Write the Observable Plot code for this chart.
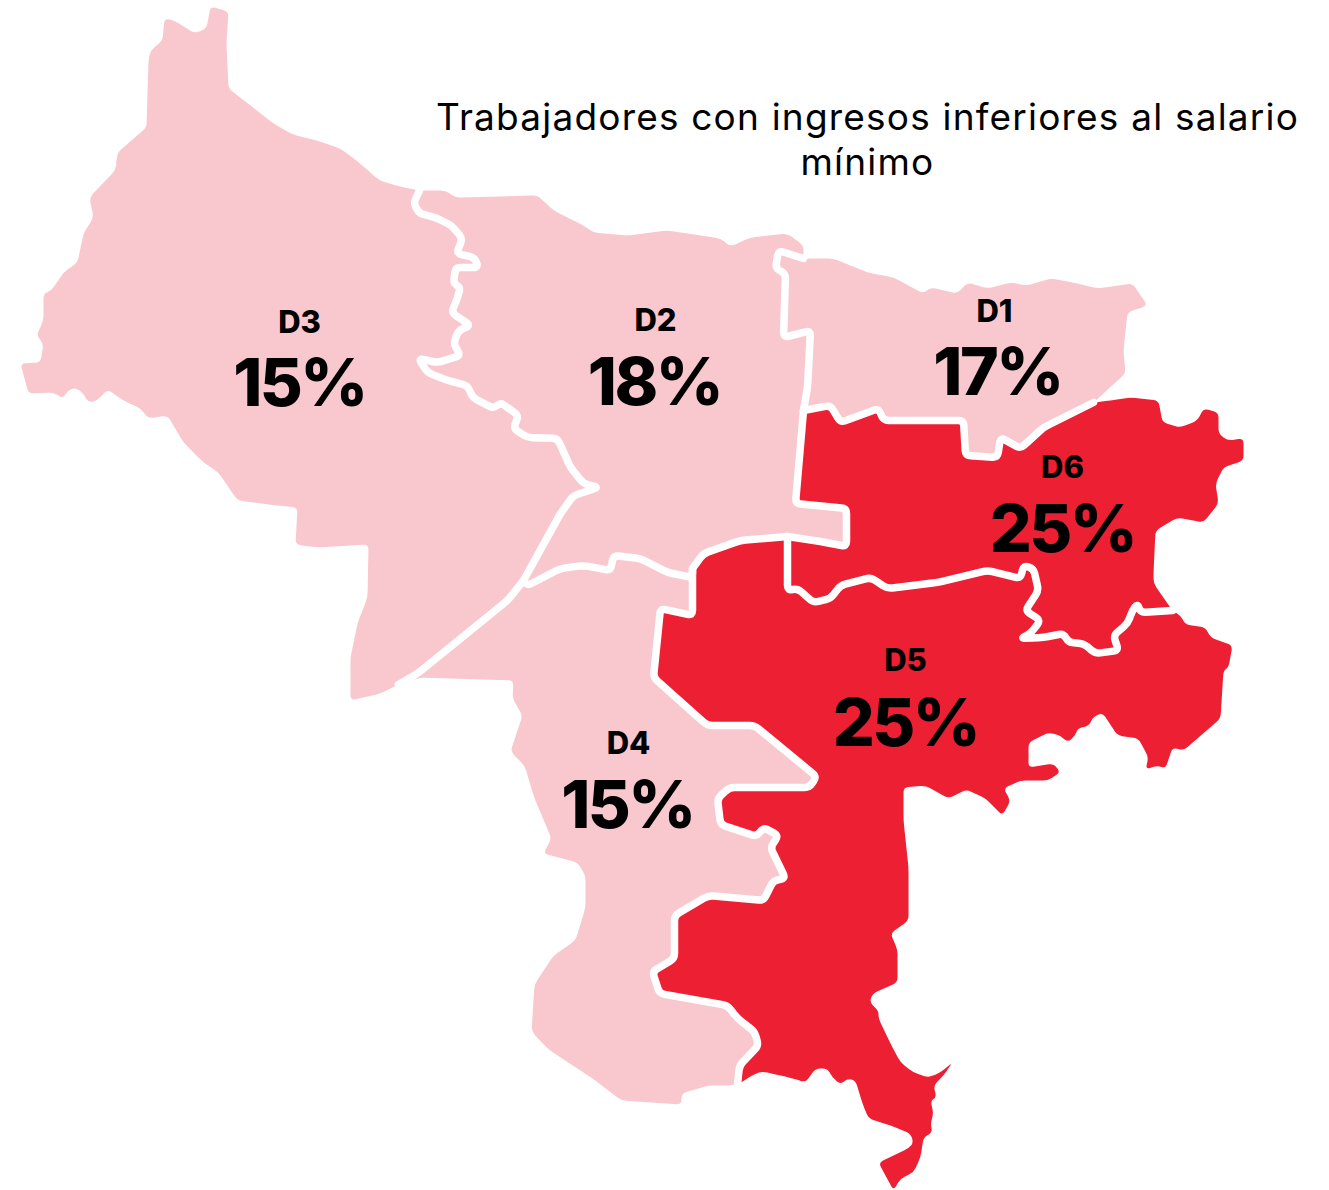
<!DOCTYPE html>
<html><head><meta charset="utf-8">
<style>html,body{margin:0;padding:0;background:#fff}svg{display:block}</style>
<script src="https://cdn.jsdelivr.net/npm/d3@7"></script>
<script src="https://cdn.jsdelivr.net/npm/@observablehq/plot@0.6"></script>
</head><body><div id="chart"></div>
<script>
const districts = ["D1","D2","D3","D4","D5","D6"];
const shares = [17,18,15,15,25,25];
const labelX = [994,655,299,628,905,1062];
const labelY = [312,321,323,744,661,468];
const valueX = [997,654,299,627,905,1062];
const valueY = [373,383,384,806,724,530];
const titleLines = ["Trabajadores con ingresos inferiores al salario","mínimo"];
const titleY = [118,163];

// internal district borders
const b23 = [[419,190],[413,203],[419,213],[435,217],[451,225],[462,238],[456,253],[474,257],[478,267],[455,267],[453,283],[460,287],[456,300],[451,312],[470,325],[458,330],[453,343],[460,355],[437,362],[418,358],[427,372],[447,380],[467,385],[472,397],[493,408],[500,402],[518,415],[513,428],[527,437],[557,438],[570,467],[583,483],[598,487],[573,495],[560,513],[523,580]];
const b34 = [[523,580],[507,600],[417,673],[398,684]];
const b24 = [[523,580],[527,585],[560,568],[583,565],[610,570],[613,555],[640,558],[667,572],[692,577],[692,568]];
const b25 = [[692,568],[703,553],[740,540],[787,536]];
const b26 = [[787,536],[820,541],[846,546],[846,508],[795,503],[803,410]];
const b12 = [[803,410],[807,387],[810,330],[783,337],[785,273],[775,268],[778,250],[803,258]];
const b16 = [[803,410],[830,405],[840,422],[878,408],[883,420],[963,420],[965,455],[997,457],[1000,437],[1020,448],[1043,427],[1093,402]];
const b56 = [[787,536],[787,590],[797,588],[813,602],[830,598],[840,585],[870,577],[887,588],[937,582],[987,570],[1020,578],[1023,565],[1033,568],[1038,590],[1025,610],[1040,620],[1030,633],[1020,638],[1043,637],[1063,633],[1068,642],[1083,643],[1095,653],[1118,650],[1113,635],[1127,623],[1132,610],[1137,603],[1140,612],[1172,610]];
const b45 = [[692,568],[692,615],[660,608],[653,677],[707,725],[754,725],[816,776],[809,787],[729,787],[717,798],[720,824],[756,836],[763,827],[778,835],[770,847],[785,878],[773,880],[763,900],[708,895],[674,915],[674,958],[652,971],[659,993],[727,1005],[737,1018],[754,1031],[758,1045],[739,1065],[737,1084]];

// outer edge
const o3 = [[398,684],[380,693],[350,700],[350,657],[357,623],[367,597],[368,544],[317,547],[295,544],[297,507],[277,505],[237,500],[218,472],[203,462],[183,442],[167,415],[148,418],[140,408],[123,400],[107,389],[97,400],[88,402],[82,392],[75,387],[67,390],[63,398],[53,392],[28,393],[20,363],[40,362],[43,343],[36,335],[43,320],[43,293],[51,290],[63,272],[77,262],[83,233],[93,217],[89,197],[103,182],[115,170],[117,152],[146,127],[148,60],[150,50],[162,40],[164,18],[174,20],[194,33],[206,28],[210,6],[228,11],[226,43],[228,88],[241,98],[273,123],[292,134],[316,140],[340,148],[356,160],[379,180],[399,186],[419,190]];
const o2 = [[419,190],[427,190],[445,190],[455,197],[537,195],[553,210],[583,225],[593,232],[627,235],[667,230],[720,238],[730,246],[750,237],[787,233],[803,245],[803,258]];
const o1 = [[803,258],[833,258],[867,272],[893,277],[923,293],[930,287],[957,293],[967,282],[987,288],[1010,282],[1027,285],[1050,278],[1073,282],[1097,288],[1132,283],[1147,305],[1127,312],[1123,350],[1125,373],[1093,402]];
const o6 = [[1093,402],[1110,400],[1130,397],[1158,400],[1162,422],[1180,427],[1197,420],[1203,408],[1218,412],[1218,433],[1227,440],[1243,438],[1243,460],[1223,467],[1215,483],[1218,503],[1203,522],[1177,517],[1155,530],[1153,573],[1153,583],[1172,610]];
const o5 = [[1172,610],[1180,615],[1185,624],[1205,627],[1210,637],[1232,645],[1228,667],[1223,670],[1220,718],[1183,750],[1172,747],[1165,768],[1157,765],[1145,769],[1148,757],[1138,738],[1117,735],[1102,712],[1092,717],[1089,725],[1077,728],[1075,735],[1067,742],[1060,735],[1048,732],[1028,742],[1028,767],[1053,763],[1060,772],[1047,780],[1020,780],[1003,788],[1010,800],[1002,815],[985,798],[966,789],[948,798],[925,785],[903,787],[903,820],[908,867],[908,920],[890,933],[897,949],[897,982],[872,993],[869,1002],[878,1010],[878,1018],[890,1043],[900,1062],[913,1072],[928,1077],[940,1072],[952,1062],[943,1075],[933,1085],[936,1097],[930,1100],[933,1113],[930,1123],[932,1132],[923,1137],[920,1157],[913,1172],[900,1178],[893,1190],[878,1162],[908,1148],[913,1142],[910,1133],[890,1125],[868,1118],[862,1103],[855,1080],[847,1078],[840,1084],[832,1077],[827,1068],[815,1068],[805,1082],[793,1078],[780,1075],[762,1071],[755,1073],[737,1084]];
const o4 = [[737,1084],[727,1085],[708,1085],[681,1093],[681,1104],[621,1100],[592,1078],[548,1049],[531,1031],[534,984],[553,955],[575,940],[585,907],[585,875],[577,862],[543,853],[551,838],[534,798],[524,765],[510,751],[522,715],[512,698],[513,680],[420,677],[398,684]];

const rev = a => [...a].reverse();
const rings = {
  D1: [...o1, ...rev(b16), ...b12],
  D2: [...o2, ...rev(b12), ...rev(b26), ...rev(b25), ...rev(b24), ...rev(b23)],
  D3: [...o3, ...b23, ...b34],
  D4: [...b24, ...b45, ...o4, ...rev(b34)],
  D5: [...b25, ...b56, ...o5, ...rev(b45)],
  D6: [...b16, ...o6, ...rev(b56), ...b26]
};
const vertices = districts.flatMap((name, i) => rings[name].map(([x, y]) => ({name, share: shares[i], x, y})));
const borderVertices = [b23, b34, b24, b25, b26, b12, b16, b56, b45].flatMap((line, id) => line.map(([x, y]) => ({id, x, y})));
const rows = districts.map((name, i) => ({name, pct: shares[i] + "%", lx: labelX[i], ly: labelY[i], vx: valueX[i], vy: valueY[i]}));
const titleRows = titleLines.map((t, i) => ({t, x: 867, y: titleY[i]}));

// polyline with slightly softened corners, like the hand-drawn map outline
const softCorners = (context) => {
  let pts = [];
  return {
    areaStart() {}, areaEnd() {},
    lineStart() { pts = []; },
    point(x, y) {
      x = +x; y = +y;
      const p = pts[pts.length - 1];
      if (!p || p[0] !== x || p[1] !== y) pts.push([x, y]);
    },
    lineEnd() {
      const R = 5;
      pts.forEach((p, i) => {
        if (i === 0) return context.moveTo(p[0], p[1]);
        if (i === pts.length - 1) return context.lineTo(p[0], p[1]);
        const a = pts[i - 1], b = pts[i + 1];
        const la = Math.hypot(a[0] - p[0], a[1] - p[1]), lb = Math.hypot(b[0] - p[0], b[1] - p[1]);
        const ra = Math.min(R, la / 2), rb = Math.min(R, lb / 2);
        context.lineTo(p[0] + (a[0] - p[0]) * ra / la, p[1] + (a[1] - p[1]) * ra / la);
        context.quadraticCurveTo(p[0], p[1], p[0] + (b[0] - p[0]) * rb / lb, p[1] + (b[1] - p[1]) * rb / lb);
      });
    }
  };
};

const font = "Inter, sans-serif";
const chart = Plot.plot({
  width: 1329, height: 1190, margin: 0,
  x: {domain: [0, 1329], range: [0, 1329], axis: null},
  y: {domain: [0, 1190], range: [0, 1190], axis: null},
  color: {type: "ordinal", domain: [15, 17, 18, 25], range: ["#f9c8ce", "#f9c8ce", "#f9c8ce", "#ec1f33"]},
  marks: [
    Plot.line(vertices, {x: "x", y: "y", z: "name", fill: "share", stroke: "none", curve: softCorners}),
    Plot.line(borderVertices, {x: "x", y: "y", z: "id", stroke: "#fff", strokeWidth: 7.5, strokeLinejoin: "round", strokeLinecap: "round", curve: softCorners}),
    Plot.text(rows, {x: "lx", y: "ly", text: "name", fontFamily: font, fontWeight: 800, fontSize: 31, fill: "#000"}),
    Plot.text(rows, {x: "vx", y: "vy", text: "pct", fontFamily: font, fontWeight: 800, fontSize: 66, fill: "#000"}),
    Plot.text(titleRows, {x: "x", y: "y", text: "t", fontFamily: font, fontWeight: 400, fontSize: 37, fill: "#000"})
  ]
});
d3.select(chart).selectAll("text").each(function() {
  const s = this.textContent;
  if (s.endsWith("%")) this.style.letterSpacing = "-2.5px";
  else if (titleLines.includes(s)) this.style.letterSpacing = "1.2px";
});
document.getElementById("chart").append(chart);
</script></body></html>
